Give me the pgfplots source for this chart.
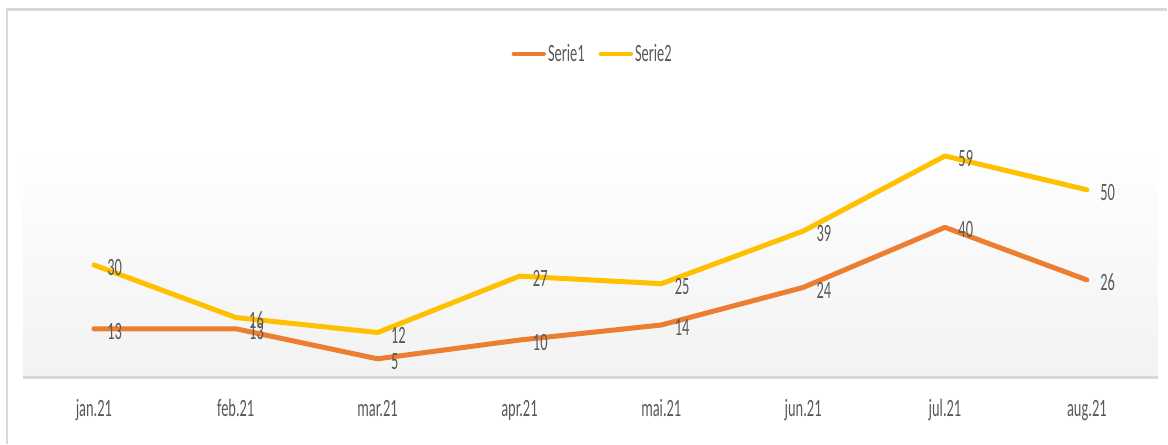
\documentclass[border=0pt]{standalone}
\usepackage{fontspec}
\setmainfont{Carlito}[FakeStretch=0.58]
\usepackage{pgfplots}
\pgfplotsset{compat=1.18}
\definecolor{sone}{HTML}{ED7D31}
\definecolor{stwo}{HTML}{FFC000}
\definecolor{txt}{HTML}{595959}
\definecolor{brd}{HTML}{D9D9D9}
\definecolor{bgb}{HTML}{F2F2F2}
\begin{document}
\begin{tikzpicture}[x=1bp,y=1bp]
\path[fill=white] (0,0) rectangle (1168,444);
\draw[brd, line width=2.5bp] (6.8,0) -- (6.8,434.5) -- (1168,434.5);
\begin{axis}[
  at={(23bp,66bp)}, anchor=south west,
  scale only axis, width=1136bp, height=235bp,
  xmin=-0.5, xmax=7.5, ymin=0, ymax=62.5,
  axis background/.style={shade, top color=white, bottom color=bgb},
  axis x line*=bottom,
  axis line style={brd, line width=2.5bp, -},
  axis y line=none,
  ytick=\empty,
  xtick={0,...,7},
  xticklabels={jan.21,feb.21,mar.21,apr.21,mai.21,jun.21,jul.21,aug.21},
  major tick length=0pt,
  xticklabel style={anchor=base, yshift=-39bp, text=txt, font=\fontsize{25}{30}\selectfont},
  clip=false,
  nodes near coords,
  every node near coord/.append style={anchor=west, inner sep=0pt, xshift=11bp, yshift=-2.5bp, text=txt, font=\fontsize{25}{30}\selectfont},
  /pgf/number format/assume math mode=true,
  legend columns=2,
  legend style={at={(0.502,1.379)}, anchor=center, draw=none, fill=none,
    font=\fontsize{25}{30}\selectfont, text=txt,
    /tikz/every even column/.append style={column sep=12bp}},
  legend image code/.code={\draw[#1, line width=4.5bp, line cap=round] (0,0) -- (30bp,0);},
  every axis plot/.append style={line width=5bp, line join=round, line cap=round, mark=none},
]
\addplot[sone] coordinates {(0,13) (1,13) (2,5) (3,10) (4,14) (5,24) (6,40) (7,26)};
\addlegendentry{Serie1}
\addplot[stwo] coordinates {(0,30) (1,16) (2,12) (3,27) (4,25) (5,39) (6,59) (7,50)};
\addlegendentry{Serie2}
\end{axis}
\end{tikzpicture}
\end{document}
